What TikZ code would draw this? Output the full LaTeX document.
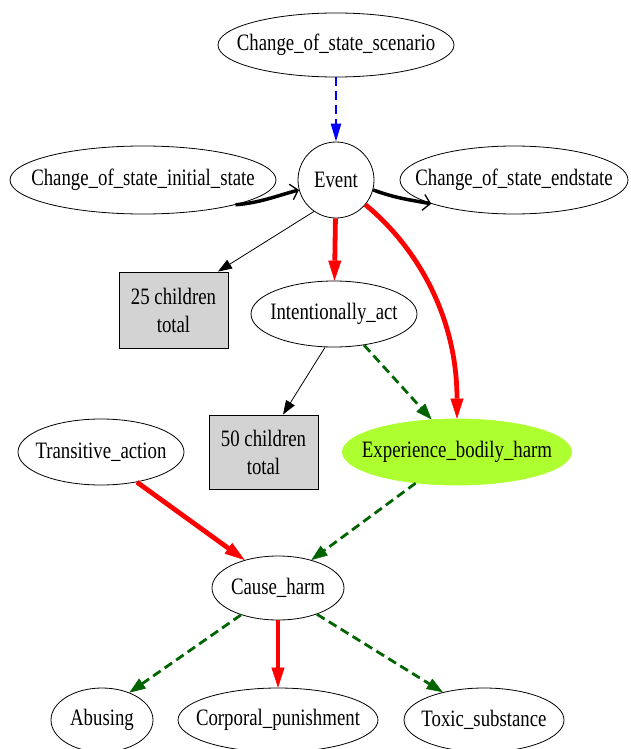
\documentclass[tikz,border=0pt]{standalone}
\usepackage{fontspec}
\setmainfont[FakeStretch=0.8]{Liberation Serif}
\usetikzlibrary{shapes.geometric,arrows.meta}
\definecolor{dgreen}{RGB}{0,100,0}
\definecolor{gyellow}{RGB}{173,255,47}
\definecolor{lgray}{RGB}{211,211,211}
\newcommand{\zt}[1]{\makebox[0pt]{#1}}
\begin{document}
\begin{tikzpicture}[x=1pt,y=-1pt,
  every node/.style={font=\fontsize{23.5}{28}\selectfont, align=center},
  ell/.style={draw, ellipse, inner sep=0pt, line width=0.8pt},
  boxnode/.style={draw, rectangle, fill=lgray, inner sep=0pt, line width=0.9pt},
  thinarr/.style={line width=0.8pt, -{Triangle[length=14pt,width=10pt]}},
  redarr/.style={red, line width=4.8pt, -{Triangle[length=20pt,width=13pt,line width=0.5pt]}},
  blkarr/.style={line width=3.5pt, -{Straight Barb[length=7pt,width=16pt,line width=1.3pt]}},
  grnarr/.style={dgreen, line width=2.8pt, dash pattern=on 9pt off 5pt, -{Triangle[length=16pt,width=12pt,line width=0.5pt]}},
  bluarr/.style={blue, line width=2.4pt, dash pattern=on 9pt off 5pt, -{Triangle[length=18pt,width=10pt]}}
]
\useasboundingbox (0,0) rectangle (630,749);
\node[ell, minimum width=236pt, minimum height=64pt] (sc) at (336,45) {\zt{Change\_of\_state\_scenario}};
\node[ell, circle, minimum size=76pt] (ev) at (336,180) {\zt{Event}};
\node[ell, minimum width=266pt, minimum height=68pt] (in) at (143,180) {\zt{Change\_of\_state\_initial\_state}};
\node[ell, minimum width=228pt, minimum height=68pt] (en) at (514,180) {\zt{Change\_of\_state\_endstate}};
\node[boxnode, minimum width=109pt, minimum height=76pt] (c25) at (173.5,310) {25 children\\total};
\node[ell, minimum width=166pt, minimum height=66pt] (ia) at (334,314) {\zt{Intentionally\_act}};
\node[boxnode, minimum width=109pt, minimum height=74pt] (c50) at (263.5,452) {50 children\\total};
\node[ell, fill=gyellow, draw=gyellow, minimum width=229pt, minimum height=66pt] (eb) at (457,452) {\zt{Experience\_bodily\_harm}};
\node[ell, minimum width=166pt, minimum height=66pt] (ta) at (101,452) {\zt{Transitive\_action}};
\node[ell, minimum width=132pt, minimum height=64pt] (ch) at (278,588) {\zt{Cause\_harm}};
\node[ell, minimum width=102pt, minimum height=64pt] (ab) at (102,720) {\zt{Abusing}};
\node[ell, minimum width=200pt, minimum height=64pt] (cp) at (278,720) {\zt{Corporal\_punishment}};
\node[ell, minimum width=160pt, minimum height=64pt] (tx) at (484,720) {\zt{Toxic\_substance}};

\draw[bluarr] (sc) -- (ev);
\draw[blkarr] (in.-15) to[out=5,in=-165] (ev.195);
\draw[blkarr] (ev.-15) to[out=-20,in=170] (en.196);
\draw[thinarr] (ev.235) -- (c25.north east -| 218,0);
\draw[redarr] (ev) -- (ia);
\draw[redarr] (ev.-40) .. controls (420,250) and (457,320) .. (eb.north);
\draw[thinarr] (ia.255) -- (c50.north -| 283,0);
\draw[grnarr] (ia.-46) -- (eb.128);
\draw[grnarr] (eb.217) -- (ch.40);
\draw[redarr] (ta.-40) -- (ch.140);
\draw[grnarr] (ch.216) -- (ab.45);
\draw[redarr] (ch) -- (cp);
\draw[grnarr] (ch.-34) -- (tx.146);
\end{tikzpicture}
\end{document}
